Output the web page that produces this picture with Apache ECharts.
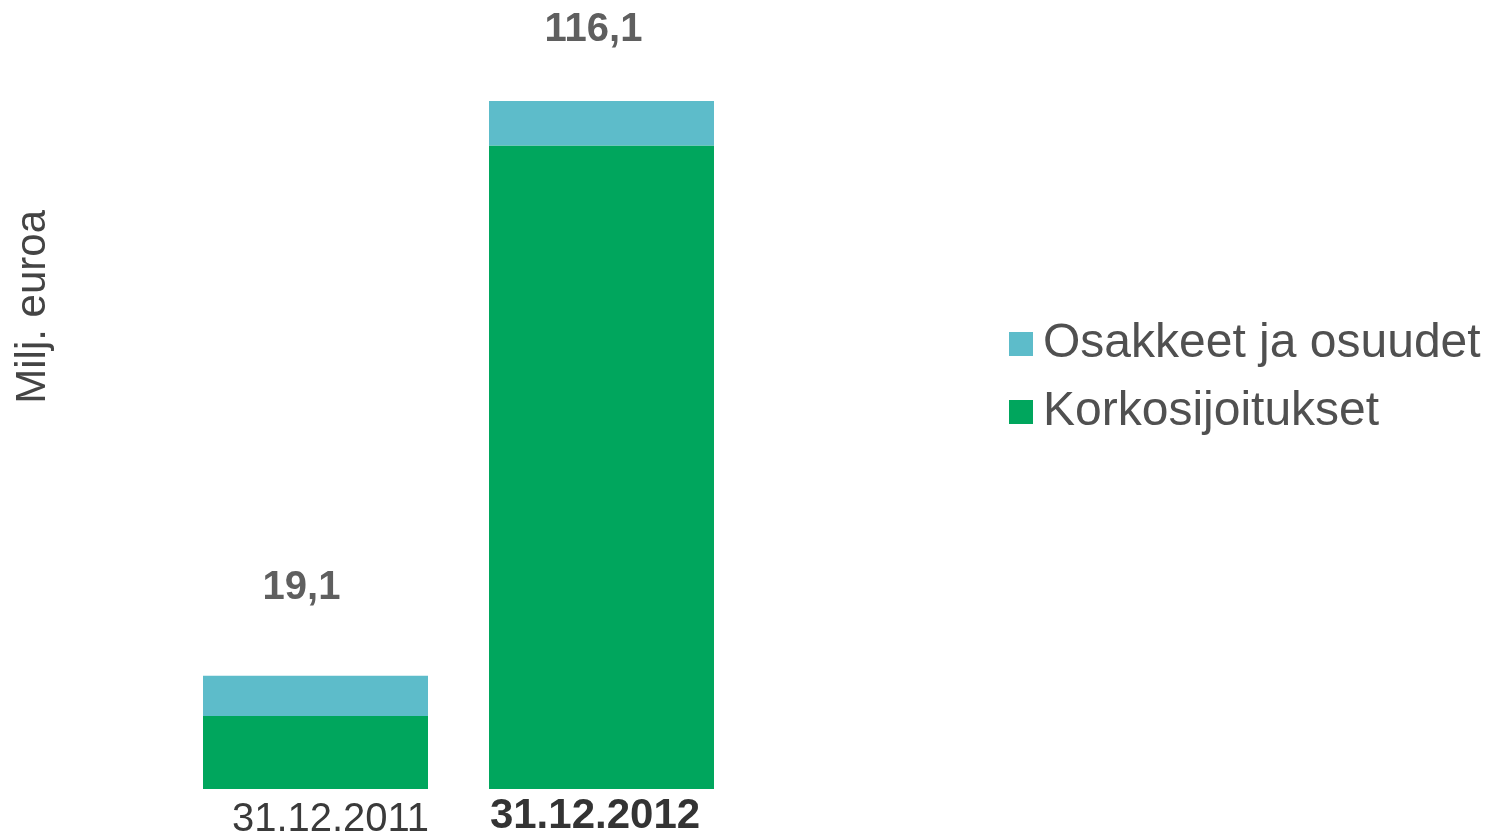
<!DOCTYPE html>
<html>
<head>
<meta charset="utf-8">
<title>Sijoitukset</title>
<script src="https://cdn.jsdelivr.net/npm/echarts@6/dist/echarts.min.js"></script>
<style>
  html, body { margin: 0; padding: 0; background: #fff; }
  #chart { width: 1491px; height: 840px; }
</style>
</head>
<body>
<div id="chart"></div>
<script>
// data (milj. euroa)
const categories = ['31.12.2011', '31.12.2012']
const korkosijoitukset = [12.3, 108.6]
const osakkeet = [6.8, 7.5]
const totals = [19.1, 116.1]
const seriesNames = ['Osakkeet ja osuudet', 'Korkosijoitukset']

const FONT = '"Liberation Sans", Arial, sans-serif'
const TEAL = '#5dbcca'
const GREEN = '#00a65d'

// total labels sit a bit left of the bar centre, as in the original slide
const totalLabelOffsets = [[-14, -68], [-8, -51]]

const chart = echarts.init(document.getElementById('chart'))

const option = {
  animation: false,
  textStyle: { fontFamily: FONT },
  grid: {
    left: 172.5,
    right: 746.5,
    top: 101,
    bottom: 51
  },
  legend: {
    orient: 'vertical',
    left: 1009,
    top: 320,
    padding: 0,
    itemWidth: 24,
    itemHeight: 24,
    itemGap: 20,
    icon: 'rect',
    data: seriesNames,
    textStyle: {
      fontSize: 48,
      color: '#505050',
      fontFamily: FONT,
      padding: [0, 0, 0, 5]
    }
  },
  xAxis: {
    type: 'category',
    data: categories,
    axisLine: { show: false },
    axisTick: { show: false },
    axisLabel: {
      margin: 6,
      interval: 0,
      formatter: (val, idx) => (idx === 0 ? '{a|' + val + '}' : '{b|' + val + '}'),
      rich: {
        a: {
          fontSize: 40,
          color: '#3a3a3a',
          fontFamily: FONT,
          padding: [5, 0, 0, 30]
        },
        b: {
          fontSize: 42,
          fontWeight: 'bold',
          color: '#333333',
          fontFamily: FONT,
          padding: [0, 13, 0, 0]
        }
      }
    }
  },
  yAxis: {
    type: 'value',
    min: 0,
    max: 'dataMax',
    show: false
  },
  graphic: [
    {
      type: 'text',
      left: 12,
      top: 210,
      rotation: Math.PI / 2,
      style: {
        text: 'Milj. euroa',
        fontSize: 42,
        fill: '#444444',
        fontFamily: FONT
      }
    }
  ],
  series: [
    {
      name: seriesNames[1],
      type: 'bar',
      stack: 'total',
      barWidth: 225,
      itemStyle: { color: GREEN },
      data: korkosijoitukset
    },
    {
      name: seriesNames[0],
      type: 'bar',
      stack: 'total',
      barWidth: 225,
      itemStyle: { color: TEAL },
      data: osakkeet.map((v, i) => ({
        value: v,
        label: {
          show: true,
          position: 'top',
          distance: 0,
          offset: totalLabelOffsets[i],
          formatter: () => totals[i].toFixed(1).replace('.', ','),
          fontSize: 40,
          fontWeight: 'bold',
          color: '#5f5f5f',
          fontFamily: FONT
        }
      }))
    }
  ]
}

chart.setOption(option)
</script>
</body>
</html>
